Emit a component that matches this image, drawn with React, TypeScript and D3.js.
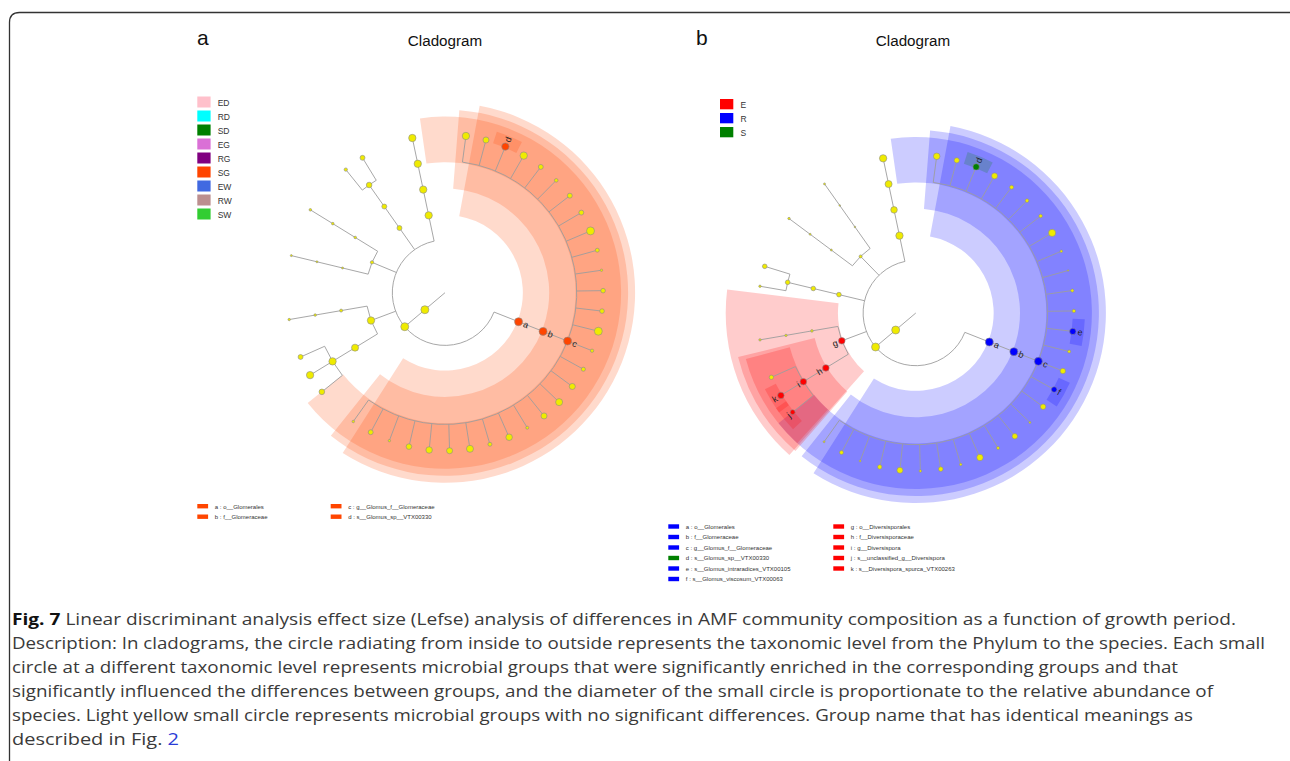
import React, { useMemo } from "react";
import * as d3 from "d3";

const W = 1290;
const H = 761;

// class legends
const classesA = ["ED", "RD", "SD", "EG", "RG", "SG", "EW", "RW", "SW"];
const classColorsA = ["#FFC0CB", "#00FFFF", "#008000", "#DA70D6", "#800080", "#FF4500", "#4169E1", "#BC8F8F", "#32CD32"];
const classesB = ["E", "R", "S"];
const classColorsB = ["#FF0000", "#0000FF", "#008000"];

const PHYLUM = "p__Glomeromycota";
const CLASS = "c__Glomeromycetes";
const GLOMUS = "o__Glomerales|f__Glomeraceae|g__Glomus_f__Glomeraceae";

const glomusSpecies = [
  "s__Glomus_sp_01", "s__Glomus_sp_02", "s__Glomus_sp__VTX00330", "s__Glomus_sp_04", "s__Glomus_sp_05",
  "s__Glomus_sp_06", "s__Glomus_sp_07", "s__Glomus_sp_08", "s__Glomus_sp_09", "s__Glomus_sp_10",
  "s__Glomus_sp_11", "s__Glomus_sp_12", "s__Glomus_intraradices_VTX00105", "s__Glomus_sp_14", "s__Glomus_sp_15",
  "s__Glomus_viscosum_VTX00063", "s__Glomus_sp_17", "s__Glomus_sp_18", "s__Glomus_sp_19", "s__Glomus_sp_20",
  "s__Glomus_sp_21", "s__Glomus_sp_22", "s__Glomus_sp_23", "s__Glomus_sp_24", "s__Glomus_sp_25",
  "s__Glomus_sp_26", "s__Glomus_sp_27", "s__Glomus_sp_28", "s__Glomus_sp_29",
];
const glomeralesClades = ["o__Glomerales", "o__Glomerales|f__Glomeraceae", GLOMUS];

const DIV = "o__Diversisporales|f__Diversisporaceae|g__Diversispora";
const ACA = "o__Diversisporales|f__Acaulosporaceae|g__Acaulospora";
const ARC = "o__Archaeosporales|f__Archaeosporaceae|g__Archaeospora";
const AMB = "o__Archaeosporales|f__Ambisporaceae|g__Ambispora";
const PAR = "o__Paraglomerales|f__Paraglomeraceae|g__Paraglomus";
const UNC = "o__unclassified|f__unclassified|g__unclassified";

const diversisporales = [
  "o__Diversisporales", "o__Diversisporales|f__Diversisporaceae", DIV,
  DIV + "|s__unclassified_g__Diversispora", DIV + "|s__Diversispora_spurca_VTX00263", DIV + "|s__Diversispora_sp",
  "o__Diversisporales|f__Acaulosporaceae", ACA, ACA + "|s__Acaulospora_sp",
];
const archaeosporales = [
  "o__Archaeosporales", "o__Archaeosporales|f__Archaeosporaceae", ARC, ARC + "|s__Archaeospora_sp",
  "o__Archaeosporales|f__Ambisporaceae", AMB, AMB + "|s__Ambispora_sp",
];
const paraglomerales = [
  "o__Paraglomerales", "o__Paraglomerales|f__Paraglomeraceae", PAR, PAR + "|s__Paraglomus_sp1", PAR + "|s__Paraglomus_sp2",
];
const unclassified = ["o__unclassified", "o__unclassified|f__unclassified", UNC, UNC + "|s__unclassified"];

// log relative abundance of each clade (circle size), panel a
const rootAbundA = [5, 5];
const glomeralesAbundA = [5, 5, 5];
const glomusAbundA = [4.6, 3.8, 4.6, 4.6, 3.1, 2.3, 3.1, 3.1, 5, 2.5, 1.5, 2.9, 2.9, 5, 2.1, 2.6, 3.8, 4.4, 3.8, 1.9, 4.1, 2.5, 4.4, 3.8, 4.1, 3.5, 1.5, 3.1, 1.6];
const diversisporalesAbundA = [4.6, 4.4, 4.6, 3.5, 4.6, 3.1, 1.9, 1.6, 1.5];
const archaeosporalesAbundA = [2.1, 1.25, 1.25, 1.25, 1.6, 1.6, 1.6];
const paraglomeralesAbundA = [3.1, 3.1, 3.5, 2.1, 3.1];
const unclassifiedAbundA = [4.6, 4.6, 4.6, 4.6];

// panel b
const rootAbundB = [5, 5];
const glomeralesAbundB = [5, 5, 5];
const glomusAbundB = [4.1, 3.25, 4, 3.75, 2.5, 2.25, 2.25, 4.5, 1.6, 1, 2, 2.2, 4, 1.9, 3.4, 3.5, 3.4, 1.25, 3.4, 1.9, 4, 1.6, 2.9, 1.6, 3.75, 2.75, 1.25, 2.5, 1.25];
const diversisporalesAbundB = [4.1, 4.1, 4.1, 3.1, 4.1, 2.75, 1.6, 1.5, 1.5];
const paraglomeralesAbundB = [2.9, 2.9, 2.9, 1.5, 2.9];
const archaeosporalesAbundB = [1.9, 1.25, 1.25, 1.5, 1, 1, 1.25];
const unclassifiedAbundB = [4.6, 4.1, 4.4, 4.6];

// biomarkers
const markerCladeA = ["o__Glomerales", "f__Glomeraceae", "g__Glomus_f__Glomeraceae", "s__Glomus_sp__VTX00330"];
const markerClassA = ["SG", "SG", "SG", "SG"];
const markerCladeB = [
  "o__Glomerales", "f__Glomeraceae", "g__Glomus_f__Glomeraceae", "s__Glomus_sp__VTX00330",
  "s__Glomus_intraradices_VTX00105", "s__Glomus_viscosum_VTX00063", "o__Diversisporales",
  "f__Diversisporaceae", "g__Diversispora", "s__unclassified_g__Diversispora", "s__Diversispora_spurca_VTX00263",
];
const markerClassB = ["R", "R", "R", "S", "R", "R", "E", "E", "E", "E", "E"];

const captionLines = [
  "Linear discriminant analysis effect size (Lefse) analysis of differences in AMF community composition as a function of growth period.",
  "Description: In cladograms, the circle radiating from inside to outside represents the taxonomic level from the Phylum to the species. Each small",
  "circle at a different taxonomic level represents microbial groups that were significantly enriched in the corresponding groups and that",
  "significantly influenced the differences between groups, and the diameter of the small circle is proportionate to the relative abundance of",
  "species. Light yellow small circle represents microbial groups with no significant differences. Group name that has identical meanings as",
  "described in Fig. ",
];
const captionEnds = [1236, 1265, 1178, 1213, 1193, 179];

// ---------- layout constants
const LEAF_R = 158.1;
const START = (-82.4 * Math.PI) / 180;
const LEVEL_SEP = 0.715;
const MULTI_SHRINK = 0.515;
const WEDGE_K: Record<number, number> = { 3: 0.82, 4: 0.928, 5: 1.072, 6: 1 };
const WEDGE_PAD: Record<number, number> = { 3: 15.8, 4: 10.6, 5: 8.3, 6: 4.6 };
const YELLOW = "#EFEB00";
const LINE = "#9d9d9d";
const FONT = "'Liberation Sans', Arial, sans-serif";

type Row = { id: string; abund: number };
type Node = d3.HierarchyNode<Row> & { theta?: number };

const stratify = d3
  .stratify<Row>()
  .id((d) => d.id)
  .parentId((d) => (d.id === "root" ? null : d.id.includes("|") ? d.id.slice(0, d.id.lastIndexOf("|")) : "root"));

function buildTree(clades: string[], abund: number[], rootAbund: number[]) {
  const rows: Row[] = [
    { id: "root", abund: 0 },
    { id: PHYLUM, abund: rootAbund[0] },
    { id: PHYLUM + "|" + CLASS, abund: rootAbund[1] },
  ];
  clades.forEach((c, i) => rows.push({ id: PHYLUM + "|" + CLASS + "|" + c, abund: abund[i] }));
  const root = stratify(rows) as Node;

  // leaves evenly spaced, with extra room where the lineage changes
  const leaves = root.leaves() as Node[];
  const seg = (n: Node, d: number) => n.data.id.split("|").slice(0, d).join("|");
  const gap = (a: Node, b: Node) => {
    let L = 0;
    for (let d = 3; d <= 5; d++) if (seg(a, d) !== seg(b, d)) L++;
    if (L === 0) return 1;
    const m = (a.parent!.children!.length > 1 ? 1 : 0) + (b.parent!.children!.length > 1 ? 1 : 0);
    return 1 + LEVEL_SEP * L - MULTI_SHRINK * m;
  };
  const pos = [0];
  for (let i = 1; i < leaves.length; i++) pos.push(pos[i - 1] + gap(leaves[i - 1], leaves[i]));
  const total = pos[pos.length - 1] + gap(leaves[leaves.length - 1], leaves[0]);
  const angle = d3.scaleLinear().domain([0, total]).range([START, START + 2 * Math.PI]);
  leaves.forEach((l, i) => (l.theta = angle(pos[i])));
  root.eachAfter((n: Node) => {
    if (n.children) {
      const c = n.children as Node[];
      n.theta = (c[0].theta! + c[c.length - 1].theta!) / 2;
    }
  });
  return root;
}

const rScale = d3.scaleLinear().domain([0, 6]).range([0, LEAF_R]);
const sizeScale = d3.scaleLinear().domain([1, 5]).range([0.8, 4.0]);

type PanelProps = {
  cx: number;
  cy: number;
  clades: string[];
  abund: number[];
  rootAbund: number[];
  markerClade: string[];
  markerClass: string[];
  classes: string[];
  colors: string[];
  legendX: number;
  legendY: number;
  legendFont: number;
  legendH: number;
  bottomX: number;
  bottomY: number;
  bottomColGap: number;
};

function Panel(p: PanelProps) {
  const color = d3.scaleOrdinal<string, string>().domain(p.classes).range(p.colors);
  const letters = "abcdefghijklmnopqrstuvwxyz".split("");

  const { wedges, connectors, nodes, labels } = useMemo(() => {
    const root = buildTree(p.clades, p.abund, p.rootAbund);
    const all = root.descendants() as Node[];
    const byClade = (c: string) => all.find((n) => n.data.id.endsWith("|" + c) || n.data.id === c)!;

    const markerOf = new Map<Node, number>();
    p.markerClade.forEach((c, i) => markerOf.set(byClade(c), i));

    const arc = d3.arc<any>();
    const wedges = p.markerClade.map((c, i) => {
      const n = byClade(c);
      const L = n.depth;
      const ls = n.leaves() as Node[];
      const span = ((ls[ls.length - 1].theta! - ls[0].theta!) * 180) / Math.PI;
      const half = ((WEDGE_K[L] * span) / 2 + WEDGE_PAD[L]) * (Math.PI / 180);
      const d = arc({
        innerRadius: rScale(L) - 1.2,
        outerRadius: LEAF_R + 32 - 7 * (L - 3),
        startAngle: n.theta! - half + Math.PI / 2,
        endAngle: n.theta! + half + Math.PI / 2,
      });
      return { d, fill: color(p.markerClass[i]) };
    });

    const path = d3.path();
    all.forEach((n) => {
      if (!n.children) return;
      const c = n.children as Node[];
      const r0 = rScale(n.depth);
      if (c.length > 1 && r0 > 0) {
        path.moveTo(r0 * Math.cos(c[0].theta!), r0 * Math.sin(c[0].theta!));
        path.arc(0, 0, r0, c[0].theta!, c[c.length - 1].theta!);
      }
      c.forEach((ch) => {
        const r1 = rScale(ch.depth);
        path.moveTo(r0 * Math.cos(ch.theta!), r0 * Math.sin(ch.theta!));
        path.lineTo(r1 * Math.cos(ch.theta!), r1 * Math.sin(ch.theta!));
      });
    });

    const nodes = all
      .filter((n) => n.depth > 0)
      .map((n) => {
        const r = rScale(n.depth);
        const mi = markerOf.get(n);
        return {
          x: r * Math.cos(n.theta!),
          y: r * Math.sin(n.theta!),
          r: sizeScale(n.data.abund),
          fill: mi === undefined ? YELLOW : color(p.markerClass[mi]),
        };
      });

    const labels = p.markerClade.map((c, i) => {
      const n = byClade(c);
      const r = rScale(n.depth);
      const deg = (n.theta! * 180) / Math.PI;
      const right = Math.cos(n.theta!) >= 0;
      const off = sizeScale(n.data.abund) + 1.5;
      return {
        x: r * Math.cos(n.theta!),
        y: r * Math.sin(n.theta!),
        rot: right ? deg : deg + 180,
        dx: right ? off : -off,
        anchor: right ? "start" : "end",
        text: letters[i],
      };
    });
    return { wedges, connectors: path.toString(), nodes, labels };
  }, [p]);

  const rows = Math.ceil(p.markerClade.length / 2);
  return (
    <g fontFamily={FONT}>
      <g transform={`translate(${p.cx},${p.cy})`}>
        {wedges.map((w, i) => (
          <path key={i} d={w.d!} fill={w.fill} fillOpacity={0.2} />
        ))}
        <path d={connectors} fill="none" stroke={LINE} strokeWidth={0.9} />
        {nodes.map((n, i) => (
          <circle key={i} cx={n.x} cy={n.y} r={n.r} fill={n.fill} stroke="#8c8c8c" strokeWidth={0.6} />
        ))}
        {labels.map((l, i) => (
          <text
            key={i}
            transform={`translate(${l.x},${l.y}) rotate(${l.rot})`}
            x={l.dx}
            textAnchor={l.anchor}
            dominantBaseline="central"
            fontSize={9}
            fill="#222"
          >
            {l.text}
          </text>
        ))}
      </g>
      {p.classes.map((c, i) => (
        <g key={c} transform={`translate(${p.legendX},${p.legendY + i * 14})`}>
          <rect width={13.3} height={p.legendH} fill={p.colors[i]} />
          <text x={20.4} y={p.legendH / 2 + 0.5} dominantBaseline="central" fontSize={p.legendFont} fill="#333">
            {c}
          </text>
        </g>
      ))}
      {p.markerClade.map((c, i) => {
        const col = Math.floor(i / rows);
        const row = i % rows;
        return (
          <g key={c} transform={`translate(${p.bottomX + col * p.bottomColGap},${p.bottomY + row * 10.5})`}>
            <rect width={10.8} height={4.4} fill={color(p.markerClass[i])} />
            <text x={17.5} y={2.6} dominantBaseline="central" fontSize={6} fill="#333">
              {`${letters[i]} : ${c}`}
            </text>
          </g>
        );
      })}
    </g>
  );
}

const cladesA = [
  ...glomeralesClades,
  ...glomusSpecies.map((s) => GLOMUS + "|" + s),
  ...diversisporales,
  ...archaeosporales,
  ...paraglomerales,
  ...unclassified,
];
const abundA = [
  ...glomeralesAbundA,
  ...glomusAbundA,
  ...diversisporalesAbundA,
  ...archaeosporalesAbundA,
  ...paraglomeralesAbundA,
  ...unclassifiedAbundA,
];
const cladesB = [
  ...glomeralesClades,
  ...glomusSpecies.map((s) => GLOMUS + "|" + s),
  ...diversisporales,
  ...paraglomerales,
  ...archaeosporales,
  ...unclassified,
];
const abundB = [
  ...glomeralesAbundB,
  ...glomusAbundB,
  ...diversisporalesAbundB,
  ...paraglomeralesAbundB,
  ...archaeosporalesAbundB,
  ...unclassifiedAbundB,
];

const panelA: PanelProps = {
  cx: 445,
  cy: 292.7,
  clades: cladesA,
  abund: abundA,
  rootAbund: rootAbundA,
  markerClade: markerCladeA,
  markerClass: markerClassA,
  classes: classesA,
  colors: classColorsA,
  legendX: 197.3,
  legendY: 96.5,
  legendFont: 8.5,
  legendH: 11,
  bottomX: 197.3,
  bottomY: 504,
  bottomColGap: 133.4,
};
const panelB: PanelProps = {
  cx: 915.8,
  cy: 313,
  clades: cladesB,
  abund: abundB,
  rootAbund: rootAbundB,
  markerClade: markerCladeB,
  markerClass: markerClassB,
  classes: classesB,
  colors: classColorsB,
  legendX: 720,
  legendY: 99,
  legendFont: 8.5,
  legendH: 10.3,
  bottomX: 668.3,
  bottomY: 524.3,
  bottomColGap: 165,
};

export default function App() {
  return (
    <svg
      width={W}
      height={H}
      viewBox={`0 0 ${W} ${H}`}
      style={{ position: "absolute", left: 0, top: 0, background: "#fff" }}
    >
      <path
        d={`M9.5,${H + 20} L9.5,22.5 Q9.5,12.5 19.5,12.5 L${W + 20},12.5`}
        fill="none"
        stroke="#333"
        strokeWidth={1.3}
      />
      <g fontFamily={FONT} fill="#111">
        <text x={197} y={45} fontSize={21}>a</text>
        <text x={696} y={45} fontSize={21}>b</text>
        <text x={445} y={46.3} fontSize={15.2} textAnchor="middle">Cladogram</text>
        <text x={913} y={46.3} fontSize={15.2} textAnchor="middle">Cladogram</text>
      </g>
      <Panel {...panelA} />
      <Panel {...panelB} />
      <g fontFamily="'Open Sans', sans-serif" fontSize={16.5} fill="#3a3a3a">
        {captionLines.map((line, i) => (
          <text
            key={i}
            x={12}
            y={625 + i * 24}
            textLength={captionEnds[i] - 12}
            lengthAdjust="spacingAndGlyphs"
          >
            {i === 0 && (
              <tspan fontWeight="bold" fill="#111">
                {"Fig. 7 "}
              </tspan>
            )}
            {line}
            {i === captionLines.length - 1 && <tspan fill="#2a3bd6">2</tspan>}
          </text>
        ))}
      </g>
    </svg>
  );
}
